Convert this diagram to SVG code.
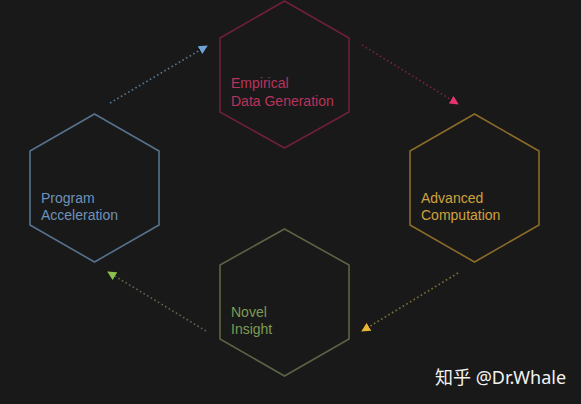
<svg xmlns="http://www.w3.org/2000/svg" width="581" height="404" viewBox="0 0 581 404">
<style>
.hex{fill:none;stroke-width:1.6}
.lbl{font-family:"Liberation Sans","Noto Sans",sans-serif;font-size:14px}
.con{fill:none;stroke-width:1.7;stroke-dasharray:1.6 2.6}
</style>
<defs>
<marker id="mb" viewBox="0 0 10 10" refX="9" refY="5" markerWidth="9" markerHeight="9" markerUnits="userSpaceOnUse" orient="auto"><path d="M0,0L10,5L0,10Z" fill="#6fa3d8"/></marker>
<marker id="mr" viewBox="0 0 10 10" refX="9" refY="5" markerWidth="9" markerHeight="9" markerUnits="userSpaceOnUse" orient="auto"><path d="M0,0L10,5L0,10Z" fill="#e8336f"/></marker>
<marker id="my" viewBox="0 0 10 10" refX="9" refY="5" markerWidth="9" markerHeight="9" markerUnits="userSpaceOnUse" orient="auto"><path d="M0,0L10,5L0,10Z" fill="#e8b632"/></marker>
<marker id="mg" viewBox="0 0 10 10" refX="9" refY="5" markerWidth="9" markerHeight="9" markerUnits="userSpaceOnUse" orient="auto"><path d="M0,0L10,5L0,10Z" fill="#8cc04c"/></marker>
</defs>
<rect width="581" height="404" fill="#191919"/>
<g id="connectors">
<line class="con" x1="110" y1="103" x2="207" y2="46" stroke="#55758e" marker-end="url(#mb)"/>
<line class="con" x1="362" y1="45" x2="458" y2="104" stroke="#70253c" marker-end="url(#mr)"/>
<line class="con" x1="458" y1="273" x2="362" y2="331" stroke="#7e6e3c" marker-end="url(#my)"/>
<line class="con" x1="206" y1="331" x2="108" y2="272" stroke="#5a644c" marker-end="url(#mg)"/>
</g>
<g id="empirical">
<polygon class="hex" points="284.5,1 349,38 349,112 284.5,148 220,112 220,38" stroke="#6e1f3a"/>
<text class="lbl" fill="#b8345e" x="231" y="88">Empirical</text>
<text class="lbl" fill="#b8345e" x="231" y="106">Data Generation</text>
</g>
<g id="advanced">
<polygon class="hex" points="474.5,114 539,151 539,225 474.5,262 410,225 410,151" stroke="#8a6a28"/>
<text class="lbl" fill="#cfa23e" x="421" y="203">Advanced</text>
<text class="lbl" fill="#cfa23e" x="421" y="220">Computation</text>
</g>
<g id="program">
<polygon class="hex" points="94.5,114 159,151 159,225 94.5,262 30,225 30,151" stroke="#56728c"/>
<text class="lbl" fill="#6e93bb" x="41" y="203">Program</text>
<text class="lbl" fill="#6e93bb" x="41" y="220">Acceleration</text>
</g>
<g id="novel">
<polygon class="hex" points="284.5,229 349,265 349,339 284.5,376 220,339 220,265" stroke="#5a6444"/>
<text class="lbl" fill="#7d9c52" x="231" y="317">Novel</text>
<text class="lbl" fill="#7d9c52" x="231" y="334">Insight</text>
</g>
<text x="435" y="384" fill="#f2f2f2" font-family="'Noto Sans','Noto Sans CJK SC',sans-serif" font-size="18">知乎 @Dr.Whale</text>
</svg>
